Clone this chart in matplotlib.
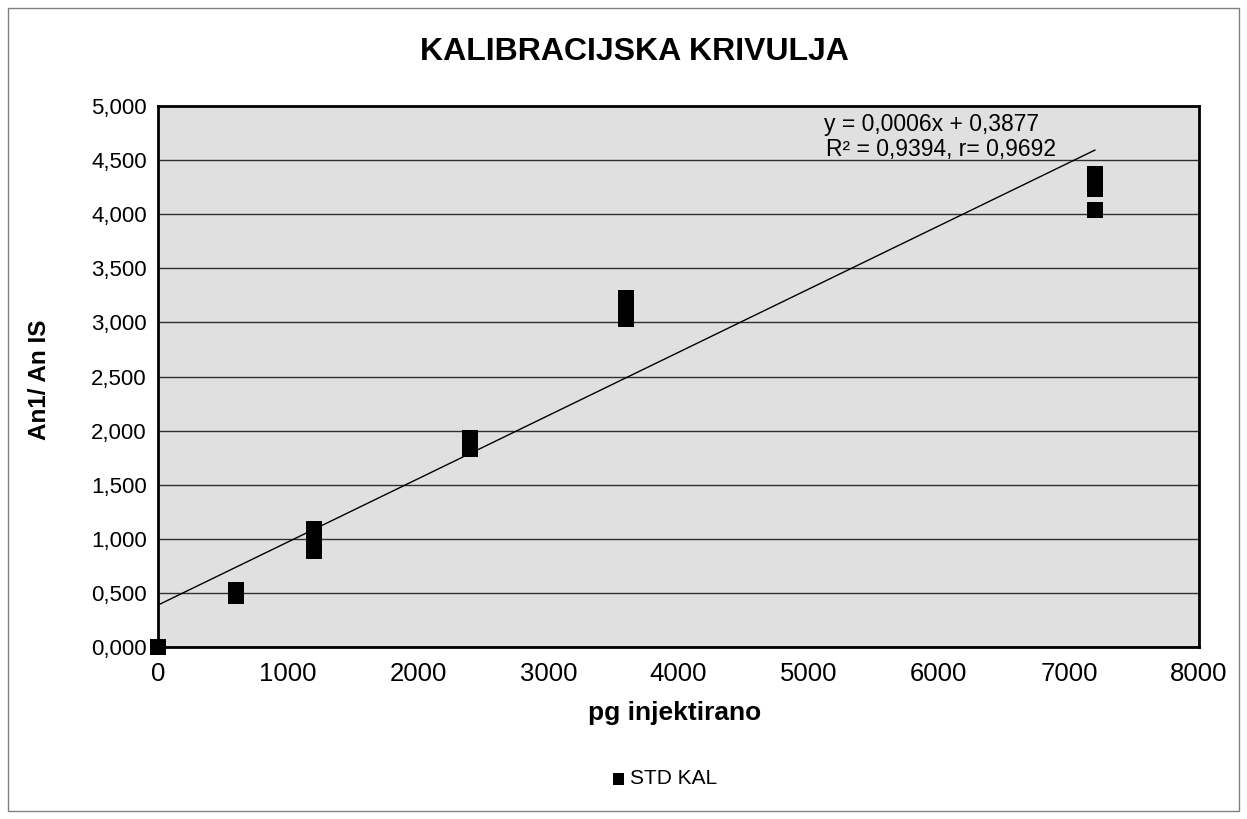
import matplotlib
matplotlib.use("Agg")
import matplotlib.pyplot as plt
from matplotlib.patches import Rectangle
from matplotlib.ticker import FuncFormatter, MultipleLocator
import numpy as np

# measured standards: pg injected vs area ratio
pg = [0, 0, 600, 600, 1200, 1200, 1200, 1200, 2400, 2400, 2400,
      3600, 3600, 3600, 3600, 7200, 7200, 7200, 7200, 7200]
ratio = [0.0, 0.0, 0.47, 0.53, 0.89, 0.95, 1.03, 1.09, 1.83, 1.88, 1.93,
         3.03, 3.08, 3.15, 3.23, 4.04, 4.23, 4.28, 4.33, 4.37]

trend_slope = 0.000584
trend_icpt = 0.3877
eq_lines = ["y = 0,0006x + 0,3877", "R² = 0,9394, r= 0,9692"]

plt.rcParams["font.family"] = ["Liberation Sans", "DejaVu Sans"]

W, H = 1247, 819
fig = plt.figure(figsize=(W / 100, H / 100), dpi=100)
ax = fig.add_axes([158 / W, 1 - 647 / H, (1199 - 158) / W, (647 - 106) / H])
ax.set_facecolor("#e0e0e0")

ax.set_xlim(0, 8000)
ax.set_ylim(0, 5.0)
ax.xaxis.set_major_locator(MultipleLocator(1000))
ax.yaxis.set_major_locator(MultipleLocator(0.5))
ax.yaxis.set_major_formatter(FuncFormatter(lambda v, _: f"{v:,.3f}".replace(".", ",")))
ax.grid(axis="y", color="#303030", linewidth=1.0)
ax.set_axisbelow(True)
ax.tick_params(axis="x", length=0, labelsize=18.5, pad=11)
ax.tick_params(axis="y", length=0, labelsize=16, pad=8)
for s in ax.spines.values():
    s.set_linewidth(2.0)
    s.set_color("black")

xs = np.array([0, max(pg)])
ax.plot(xs, trend_slope * xs + trend_icpt, color="black", linewidth=1.0, zorder=3)
ax.scatter(pg, ratio, marker="s", s=118, color="black", linewidths=0, zorder=4, clip_on=False)

ax.text(0.7426, 0.965, eq_lines[0], transform=ax.transAxes, ha="center", va="center", fontsize=16.5)
ax.text(0.752, 0.919, eq_lines[1], transform=ax.transAxes, ha="center", va="center", fontsize=16.5)

fig.text(634 / W, 1 - 52 / H, "KALIBRACIJSKA KRIVULJA", ha="center", va="center",
         fontsize=23, fontweight="bold")
fig.text(675 / W, 1 - 713 / H, "pg injektirano", ha="center", va="center",
         fontsize=19, fontweight="bold")
fig.text(40 / W, 1 - 380 / H, "An1/ An IS", ha="center", va="center", rotation=90,
         fontsize=17.5, fontweight="bold")

# legend drawn like the Excel one
fig.patches.append(Rectangle((613 / W, 1 - 785 / H), 11 / W, 12 / H, transform=fig.transFigure,
                             facecolor="black", edgecolor="none"))
fig.text(630 / W, 1 - 779 / H, "STD KAL", ha="left", va="center", fontsize=15)

# chart area border
fig.patches.append(Rectangle((8 / W, 8 / H), (W - 16) / W, (H - 16) / H, transform=fig.transFigure,
                             facecolor="none", edgecolor="#808080", linewidth=1.0))

fig.savefig("out.png", dpi=100)
